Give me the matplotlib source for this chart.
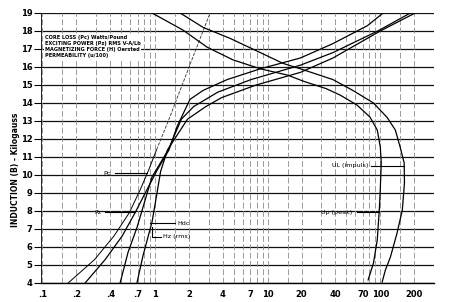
import numpy as np
import matplotlib
matplotlib.use("Agg")
import matplotlib.pyplot as plt
from matplotlib.ticker import FixedLocator, NullLocator

# ---------------- data ----------------
x_ticks = [0.1, 0.2, 0.4, 0.7, 1, 2, 4, 7, 10, 20, 40, 70, 100, 200]
x_tick_labels = ['.1', '.2', '.4', '.7', '1', '2', '4', '7', '10', '20', '40', '70', '100', '200']
y_ticks = list(range(4, 20))
grid_mantissas = [1, 1.5, 2, 3, 4, 5, 6, 7, 8, 9]

# Core loss Pc (Watts/Pound)
B_pc = [4.0, 5.3, 6.6, 7.9, 9.2, 10.3, 11.4, 13.0, 15.0, 17.0, 19.0]
X_pc = [0.169, 0.29, 0.43, 0.59, 0.74, 0.88, 1.03, 1.31, 1.74, 2.31, 3.08]

# Exciting power Pz
B_pz = [4.0, 5.3, 6.6, 7.9, 9.2, 10.3, 11.4, 12.7, 14.2, 14.7, 15.3, 15.9, 16.5, 17.3, 18.3, 19.0]
X_pz = [0.239, 0.36, 0.509, 0.664, 0.849, 1.05, 1.33, 1.57, 2.04, 2.67, 4.36, 8.6, 19.5, 38, 77, 106]

# Magnetizing force Hdc
B_hdc = [4.0, 5.7, 7.1, 8.6, 9.9, 11.4, 13.1, 13.8, 14.6, 15.3, 16.1, 16.8, 18.0, 19.0]
X_hdc = [0.489, 0.575, 0.692, 0.815, 0.94, 1.31, 1.71, 2.2, 3.6, 7.1, 19.5, 38, 95, 185]

# Magnetizing force Hz (rms)
B_hz = [4.0, 5.5, 7.4, 9.0, 10.2, 11.4, 13.1, 13.8, 14.3, 15.0, 15.7, 16.5, 18.0, 19.0]
X_hz = [0.69, 0.78, 0.94, 1.04, 1.12, 1.29, 1.94, 2.82, 3.9, 7.9, 19.5, 38, 100, 204]

# Permeability UL (impuls)
B_ul = [4.06, 4.72, 5.44, 6.78, 8.06, 9.56, 10.67, 11.56, 12.5, 13.2, 14.0, 14.7, 15.3, 15.9, 16.2, 16.8, 17.6, 18.2, 19.0]
X_ul = [104, 111, 123, 141, 157, 164, 163, 150, 136, 115, 87, 57, 38, 19.5, 13.7, 8.6, 4.6, 2.67, 1.67]

# Permeability Up (peak)
B_up = [4.17, 5.11, 6.39, 8.06, 9.17, 10.67, 11.56, 12.5, 13.22, 13.89, 14.44, 14.8, 15.2, 15.55, 15.9, 16.4, 17.1, 18.05, 19.0]
X_up = [78, 87, 94, 98, 100, 102, 100, 94, 81, 62, 44, 33, 21, 15, 8.6, 4.9, 2.9, 1.77, 0.94]

legend_lines = ["CORE LOSS (Pc) Watts/Pound",
                "EXCITING POWER (Pz) RMS V-A/Lb",
                "MAGNETIZING FORCE (H) Oersted",
                "PERMEABILITY (u/100)"]

# ---------------- figure ----------------
W, H = 449, 302
fig = plt.figure(figsize=(W / 100, H / 100), dpi=100)
ax = fig.add_axes([41 / W, 1 - 283 / H, (434 - 41) / W, (283 - 13) / H])
ax.set_xscale('log')
ax.set_xlim(0.097, 300)
ax.set_ylim(4, 19)

# grid: horizontal heavy, vertical broken/light
for b in y_ticks:
    ax.axhline(b, color='#111111', lw=0.9, zorder=1)
vlines = [m * 10.0 ** d for d in range(-1, 3) for m in grid_mantissas]
vlines = [v for v in vlines if 0.1 <= v <= 300]
for v in vlines:
    ax.axvline(v, color='#8a8a8a', lw=0.6, ls=(0, (7, 3)), zorder=1)

# curves
kw = dict(color='black', lw=0.9, zorder=3)
n_solid = 7  # Pc is drawn solid up to B=11.4, thin broken above
ax.plot(X_pc[:n_solid], B_pc[:n_solid], color='black', lw=0.7, zorder=3)
ax.plot(X_pc[n_solid - 1:], B_pc[n_solid - 1:], color='#333333', lw=0.6,
        ls=(0, (4, 1.5)), zorder=3)
ax.plot(X_pz, B_pz, **kw)
ax.plot(X_hdc, B_hdc, **kw)
ax.plot(X_hz, B_hz, **kw)
ax.plot(X_ul, B_ul, **kw)
ax.plot(X_up, B_up, **kw)

# leaders and labels
fs_lab = 4.6
lk = dict(color='black', lw=0.8, zorder=4)
b_pc = 10.1
ax.plot([0.44, np.interp(b_pc, B_pc, X_pc)], [b_pc, b_pc], **lk)
ax.text(0.40, b_pc, 'Pc', fontsize=fs_lab, ha='right', va='center')
b_pz = 7.94
ax.plot([0.36, np.interp(b_pz, B_pz, X_pz)], [b_pz, b_pz], **lk)
ax.text(0.335, b_pz, 'Pz', fontsize=fs_lab, ha='right', va='center')
b_hdc = 7.33
ax.plot([0.90, 1.5], [b_hdc, b_hdc], **lk)
ax.text(1.57, b_hdc, 'Hdc', fontsize=fs_lab, ha='left', va='center')
ax.plot([0.94, 0.94, 1.13], [7.1, 6.56, 6.56], **lk)
ax.text(1.18, 6.56, 'Hz (rms)', fontsize=fs_lab, ha='left', va='center')
b_ul = 10.5
ax.plot([82, np.interp(b_ul, B_ul[:8], X_ul[:8])], [b_ul, b_ul], **lk)
ax.text(78, b_ul, 'UL (impuls)', fontsize=fs_lab, ha='right', va='center')
b_up = 7.94
ax.plot([62, np.interp(b_up, B_up[:6], X_up[:6])], [b_up, b_up], **lk)
ax.text(56, b_up, 'Up (peak)', fontsize=fs_lab, ha='right', va='center')

# legend block
ax.text(0.105, 17.75, "\n".join(legend_lines), fontsize=3.6, fontweight='bold',
        ha='left', va='top', linespacing=1.25, zorder=5,
        bbox=dict(facecolor='white', edgecolor='none', pad=0.5))

# ticks
ax.xaxis.set_major_locator(FixedLocator(x_ticks))
ax.xaxis.set_minor_locator(NullLocator())
ax.set_xticklabels(x_tick_labels)
ax.set_yticks(y_ticks)
ax.set_yticklabels([str(v) for v in y_ticks])
ax.tick_params(axis='x', length=0, pad=5, labelsize=6)
ax.tick_params(axis='y', length=5, width=0.8, direction='out', pad=1, labelsize=6)
for lab in ax.get_xticklabels() + ax.get_yticklabels():
    lab.set_fontweight('bold')

for s in ['top', 'right']:
    ax.spines[s].set_visible(False)
ax.spines['left'].set_linewidth(0.6)
ax.spines['bottom'].set_linewidth(1.0)

fig.text(15 / W, 1 - 170 / H, 'INDUCTION (B) - Kilogauss', rotation=90, fontsize=5.5,
         fontweight='bold', ha='center', va='center')

fig.savefig('out.png', dpi=100)
